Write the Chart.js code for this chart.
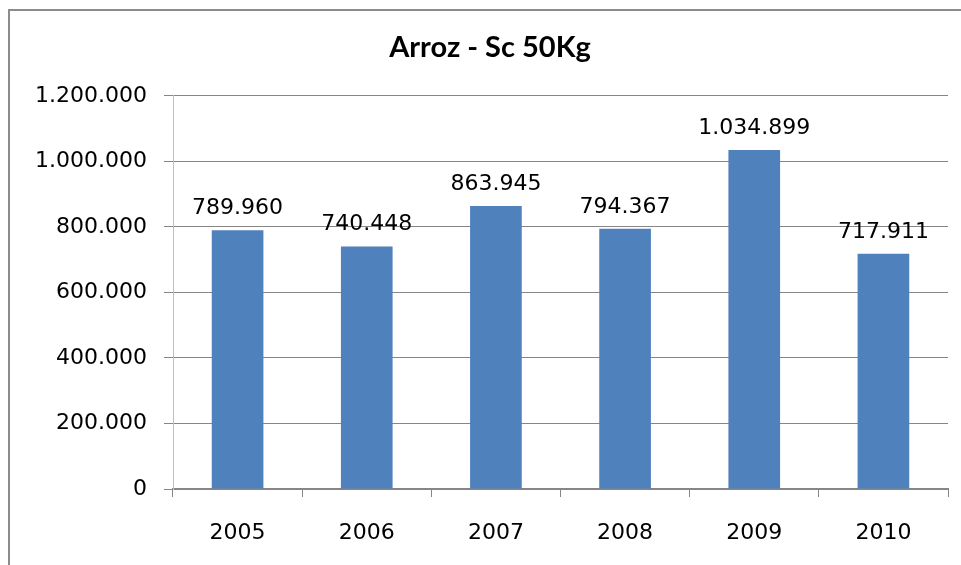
<!DOCTYPE html>
<html>
<head>
<meta charset="utf-8">
<script src="https://cdn.jsdelivr.net/npm/chart.js@4.4.0/dist/chart.umd.min.js"></script>
<style>
    body { margin: 0; background: #fff; }
    canvas { display: block; }
</style>
</head>
<body>
<canvas id="arrozChart" width="961" height="565"></canvas>
<script>
// dados do grafico
let anos = ['2005', '2006', '2007', '2008', '2009', '2010'];
let sacas = [789960, 740448, 863945, 794367, 1034899, 717911];
let yMax = 1200000;
let yStep = 200000;

// formata com ponto como separador de milhar
function pontoMilhar(v) {
    return String(Math.round(v)).replace(/\B(?=(\d{3})+(?!\d))/g, '.');
}

// moldura cinza do grafico (canto superior esquerdo)
const moldura = {
    id: 'moldura',
    beforeDraw(chart) {
        let c = chart.ctx;
        c.save();
        c.strokeStyle = '#8c8c8c';
        c.lineWidth = 2;
        c.strokeRect(9, 10, 1200, 1000);
        c.restore();
    }
};

// rotulos de valor em cima das barras
const rotulos = {
    id: 'rotulos',
    afterDatasetsDraw(chart) {
        let c = chart.ctx;
        let meta = chart.getDatasetMeta(0);
        c.save();
        c.font = '22px "DejaVu Sans"';
        c.fillStyle = '#000';
        c.textAlign = 'center';
        c.textBaseline = 'alphabetic';
        meta.data.forEach((bar, i) => {
            c.fillText(pontoMilhar(sacas[i]), bar.x, bar.y - 16);
        });
        c.restore();
    }
};

var ctx = document.getElementById('arrozChart').getContext('2d');

var myChart = new Chart(ctx, {
    type: 'bar',
    data: {
        labels: anos,
        datasets: [{
            label: 'Arroz - Sc 50Kg',
            data: sacas,
            backgroundColor: '#4f81bd',
            borderWidth: 0,
            categoryPercentage: 1,
            barPercentage: 0.4
        }]
    },
    options: {
        responsive: false,
        animation: false,
        layout: {
            padding: { left: 32, right: 13, top: 30, bottom: 0 }
        },
        plugins: {
            legend: { display: false },
            tooltip: { enabled: false },
            title: {
                display: true,
                text: 'Arroz - Sc 50Kg',
                color: '#000',
                font: { family: 'Lato', size: 29, weight: 'bold' },
                padding: { top: 0, bottom: 31 }
            }
        },
        scales: {
            x: {
                grid: {
                    drawOnChartArea: false,
                    drawTicks: true,
                    tickLength: 8,
                    color: '#868686'
                },
                border: { color: '#868686', width: 2 },
                ticks: {
                    color: '#000',
                    font: { family: 'DejaVu Sans', size: 22 },
                    padding: 23
                },
                afterFit(scale) { scale.height = 76; }
            },
            y: {
                min: 0,
                max: yMax,
                grid: {
                    color: '#868686',
                    tickLength: 9
                },
                border: { color: '#c0c0c0', width: 1 },
                ticks: {
                    stepSize: yStep,
                    color: '#000',
                    font: { family: 'DejaVu Sans', size: 22 },
                    padding: 17,
                    callback: v => pontoMilhar(v)
                },
                afterFit(scale) { scale.width = 141; }
            }
        }
    },
    plugins: [moldura, rotulos]
});
</script>
</body>
</html>
